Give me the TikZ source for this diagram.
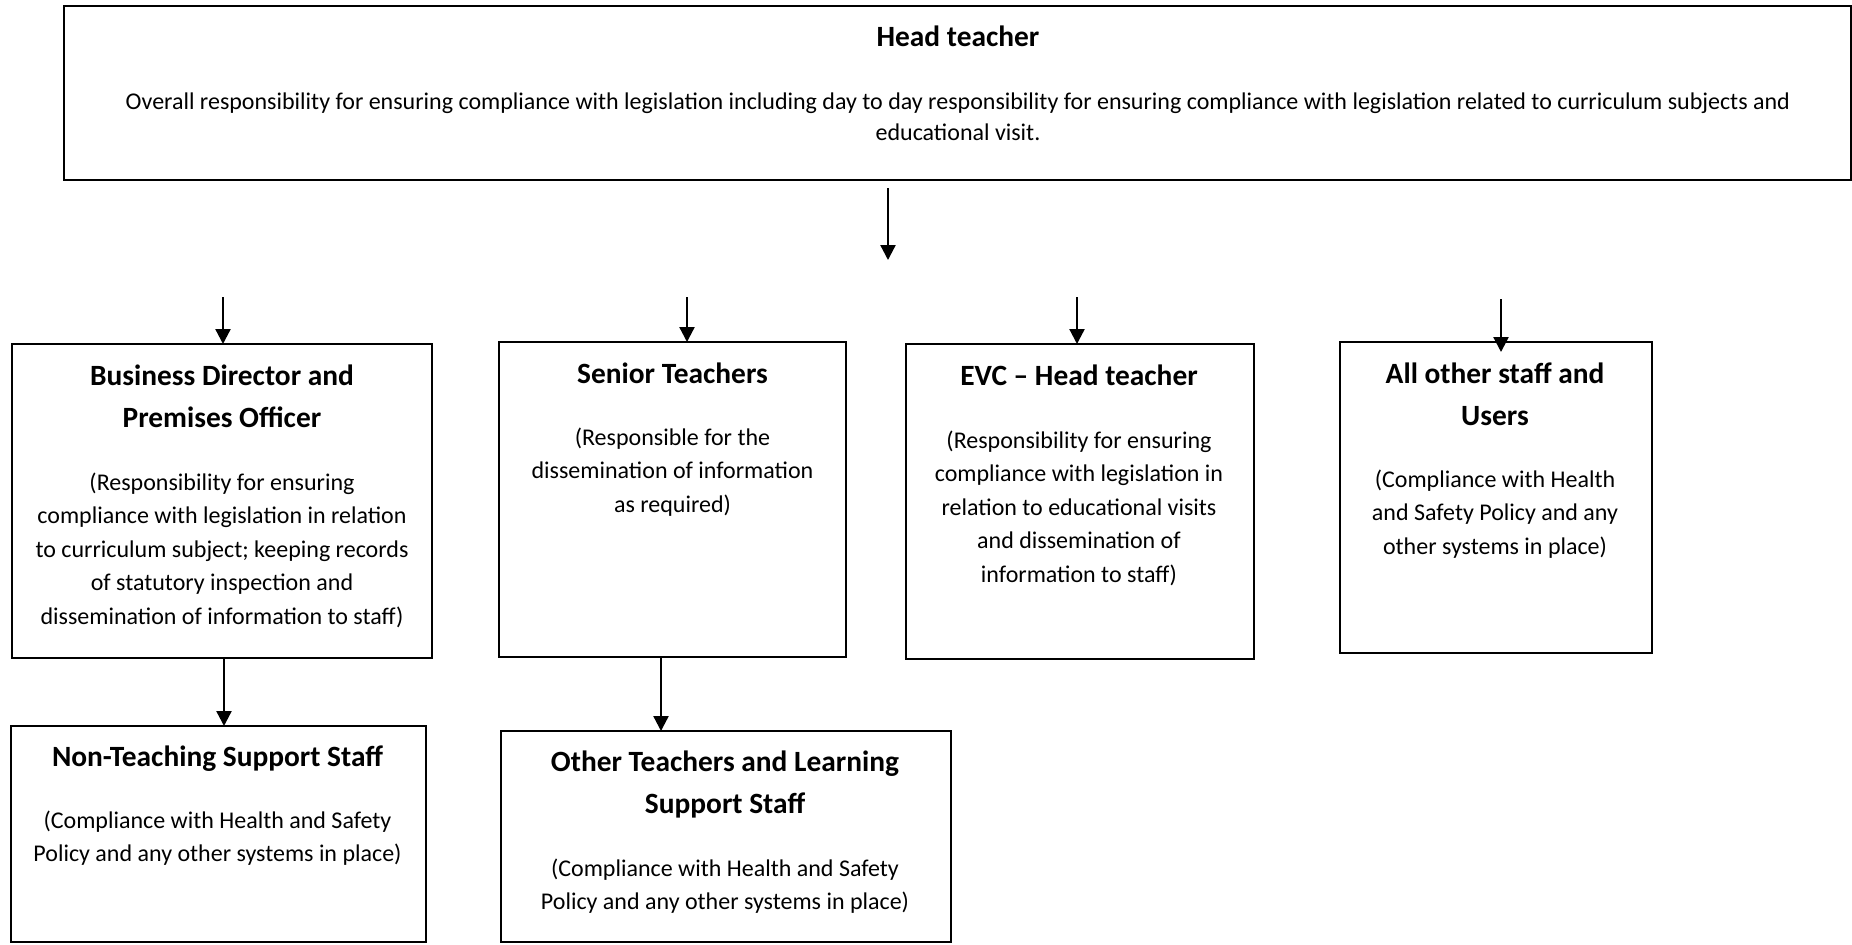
\documentclass[tikz,border=0pt]{standalone}
\usepackage{fontspec}
\setmainfont{Carlito}
\usetikzlibrary{arrows.meta}
\begin{document}
\begin{tikzpicture}[x=0.5pt,y=-0.5pt,
  box/.style={draw, line width=1.3pt, inner sep=0pt, outer sep=0pt},
  ttl/.style={font=\fontsize{14.7}{21}\selectfont\bfseries, align=center, inner sep=0pt},
  bdy/.style={font=\fontsize{12}{16.75}\selectfont, align=center, inner sep=0pt},
  arr/.style={line width=1.15pt, -{Triangle[length=7.5pt,width=7.5pt]}}]
\useasboundingbox (0,0) rectangle (1852,944);
% boxes
\node[box, minimum width=893.5pt, minimum height=87pt] (head) at (957.5,93) {};
\node[box, minimum width=210pt, minimum height=157pt] (bd) at (222,501) {};
\node[box, minimum width=173.5pt, minimum height=157.5pt] (st) at (672.5,499.5) {};
\node[box, minimum width=174pt, minimum height=157.5pt] (evc) at (1080,501.5) {};
\node[box, minimum width=156pt, minimum height=155.5pt] (all) at (1496,497.5) {};
\node[box, minimum width=207.5pt, minimum height=108pt] (nt) at (218.5,834) {};
\node[box, minimum width=225pt, minimum height=105.5pt] (ot) at (726,836.5) {};
% texts
\node[ttl] (headT) at (958,36) {Head teacher};
\node[bdy, font=\fontsize{12}{15.5}\selectfont] (headB) at (958,117) {Overall responsibility for ensuring compliance with legislation including day to day responsibility for ensuring compliance with legislation related to curriculum subjects and\\educational visit.};
\node[ttl] (bdT) at (222,396) {Business Director and\\Premises Officer};
\node[bdy] (bdB) at (222,550) {(Responsibility for ensuring\\compliance with legislation in relation\\to curriculum subject; keeping records\\of statutory inspection and\\dissemination of information to staff)};
\node[ttl] (stT) at (672.5,373) {Senior Teachers};
\node[bdy] (stB) at (672.5,472) {(Responsible for the\\dissemination of information\\as required)};
\node[ttl] (evcT) at (1079,375) {EVC -- Head teacher};
\node[bdy] (evcB) at (1079,508) {(Responsibility for ensuring\\compliance with legislation in\\relation to educational visits\\and dissemination of\\information to staff)};
\node[ttl] (allT) at (1495,394) {All other staff and\\Users};
\node[bdy] (allB) at (1495,514) {(Compliance with Health\\and Safety Policy and any\\other systems in place)};
\node[ttl] (ntT) at (217.5,759) {Non-Teaching Support Staff};
\node[bdy] (ntB) at (217.5,838) {(Compliance with Health and Safety\\Policy and any other systems in place)};
\node[ttl] (otT) at (725,784.5) {Other Teachers and Learning\\Support Staff};
\node[bdy] (otB) at (725,886) {(Compliance with Health and Safety\\Policy and any other systems in place)};
% arrows
\coordinate (hs) at (888,188);
\coordinate (he) at (888,260);
\draw[arr] (hs) -- (he);
\coordinate (a1) at (223,297);
\coordinate (a2) at (687,297);
\coordinate (a3) at (1077,297);
\coordinate (a4) at (1501,299);
\draw[arr] (a1) -- (a1 |- bd.north);
\draw[arr] (a2) -- (a2 |- st.north);
\draw[arr] (a3) -- (a3 |- evc.north);
\draw[arr, shorten >=-5pt] (a4) -- (a4 |- all.north);
\coordinate (b1) at (224,700);
\coordinate (b2) at (661,700);
\draw[arr] (b1 |- bd.south) -- (b1 |- nt.north);
\draw[arr] (b2 |- st.south) -- (b2 |- ot.north);
\end{tikzpicture}
\end{document}
